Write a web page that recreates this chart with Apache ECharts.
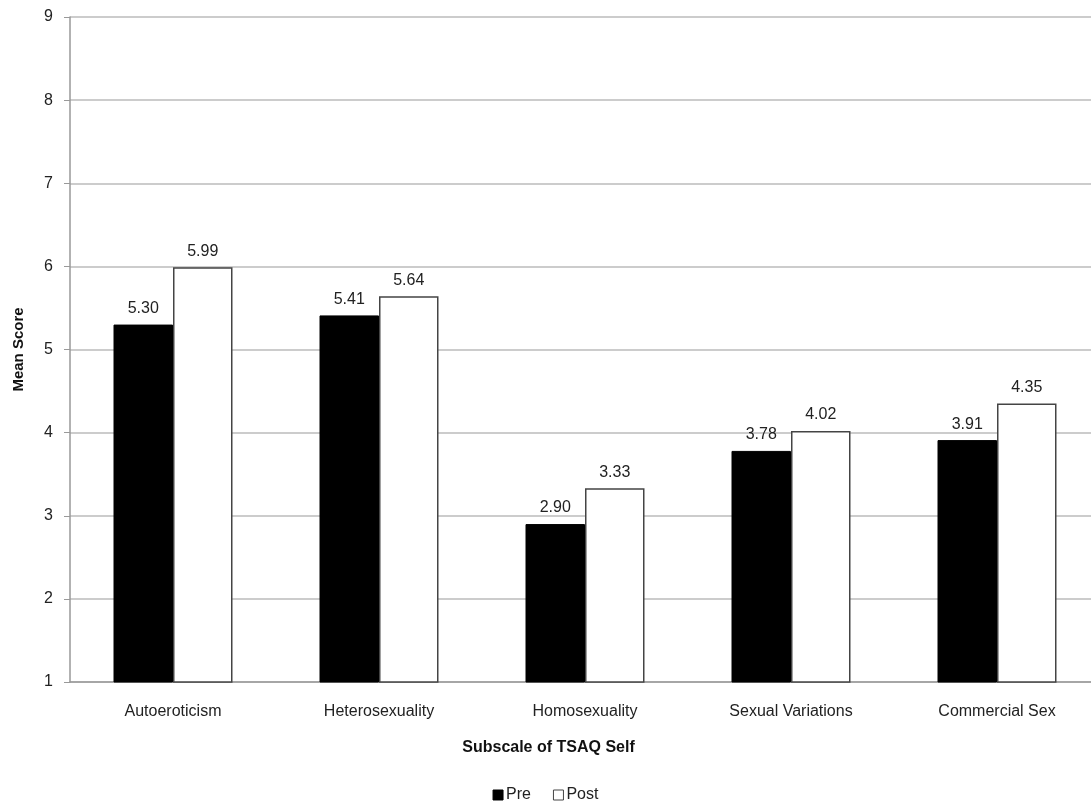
<!DOCTYPE html>
<html>
<head>
<meta charset="utf-8">
<script src="https://cdn.jsdelivr.net/npm/echarts@6/dist/echarts.min.js"></script>
<style>html,body{margin:0;padding:0;background:#fff}#c{width:1091px;height:806px}</style>
</head>
<body>
<div id="c"></div>
<script>
var categories = ['Autoeroticism', 'Heterosexuality', 'Homosexuality', 'Sexual Variations', 'Commercial Sex'];
var preValues = [5.30, 5.41, 2.90, 3.78, 3.91];
var postValues = [5.99, 5.64, 3.33, 4.02, 4.35];
var yTicks = [1, 2, 3, 4, 5, 6, 7, 8, 9];

var font = 'Liberation Sans, Arial, sans-serif';
var chart = echarts.init(document.getElementById('c'));
chart.setOption({
  animation: false,
  textStyle: { fontFamily: font },
  grid: { left: 70, top: 17, width: 1030, height: 665, containLabel: false, outerBoundsMode: 'none' },
  legend: {
    data: [
      { name: 'Pre', itemStyle: { color: '#000', borderColor: '#000', borderWidth: 1 } },
      { name: 'Post', itemStyle: { color: '#fff', borderColor: '#444', borderWidth: 1 } }
    ],
    bottom: -2, left: 'center', itemWidth: 10, itemHeight: 10, itemGap: 22,
    icon: 'rect',
    textStyle: { fontSize: 16, color: '#222', fontFamily: font, padding: [0, 0, 0, -2] }
  },
  xAxis: {
    type: 'category', data: categories,
    name: 'Subscale of TSAQ Self', nameLocation: 'middle', nameGap: 58,
    nameTextStyle: { fontSize: 16, fontWeight: 'bold', color: '#111', fontFamily: font, padding: [0, 0, 0, -73] },
    axisLine: { lineStyle: { color: '#999', width: 1.5 } },
    axisTick: { show: false },
    axisLabel: { fontSize: 16, color: '#222', margin: 22, fontFamily: font },
    splitLine: { show: false }
  },
  yAxis: {
    type: 'value', min: yTicks[0], max: yTicks[yTicks.length - 1], interval: 1,
    name: 'Mean Score', nameLocation: 'middle', nameGap: 44, nameRotate: 90,
    nameTextStyle: { fontSize: 15, fontWeight: 'bold', color: '#111', fontFamily: font },
    axisLine: { show: true, lineStyle: { color: '#999', width: 1.5 } },
    axisTick: { show: true, length: 6, lineStyle: { color: '#999' } },
    axisLabel: { fontSize: 16, color: '#222', margin: 17, fontFamily: font },
    splitLine: { lineStyle: { color: '#bbb', width: 1.5 } }
  },
  series: [
    {
      name: 'Pre', type: 'bar', data: preValues, barWidth: 59.5, barGap: '0%',
      itemStyle: { color: '#000', borderColor: '#000', borderWidth: 1 },
      label: { show: true, position: 'top', distance: 8, fontSize: 16, color: '#222', fontFamily: font,
        formatter: function (p) { return p.value.toFixed(2); } }
    },
    {
      name: 'Post', type: 'bar', data: postValues, barWidth: 59.5, barGap: '0%',
      itemStyle: { color: '#fff', borderColor: '#444', borderWidth: 1.5 },
      label: { show: true, position: 'top', distance: 8, fontSize: 16, color: '#222', fontFamily: font,
        formatter: function (p) { return p.value.toFixed(2); } }
    }
  ]
});
</script>
</body>
</html>
